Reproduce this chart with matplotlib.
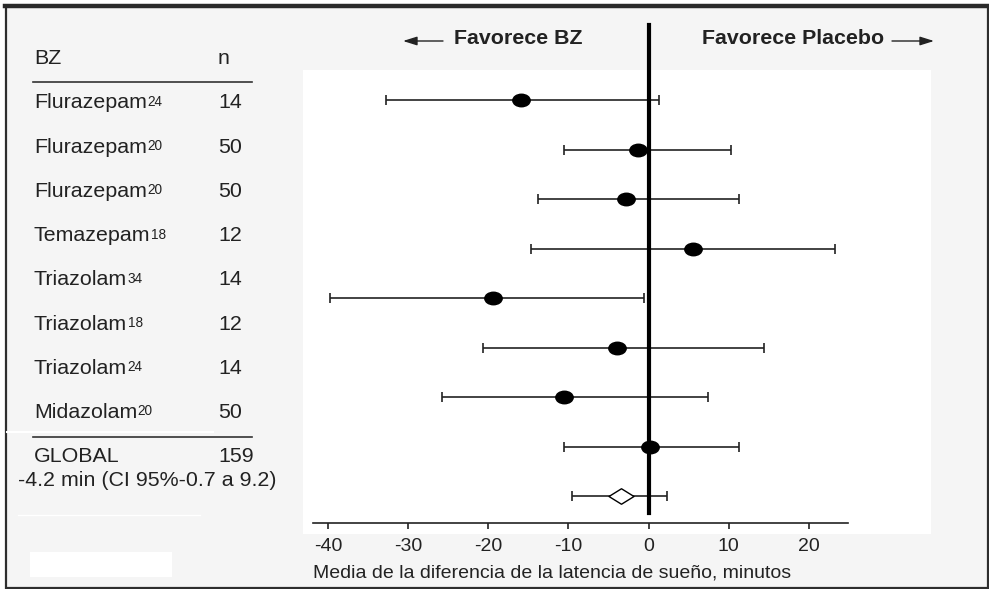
import numpy as np
import matplotlib.pyplot as plt
from matplotlib.path import Path
from matplotlib.patches import Rectangle
from matplotlib.lines import Line2D

# datos
farmacos = ['Flurazepam', 'Flurazepam', 'Flurazepam', 'Temazepam',
            'Triazolam', 'Triazolam', 'Triazolam', 'Midazolam']
refs = ['24', '20', '20', '18', '34', '18', '24', '20']
n_pac = [14, 50, 50, 12, 14, 12, 14, 50]
media = [-15.9, -1.3, -2.8, 5.5, -19.4, -3.9, -10.6, 0.2]
ic_inf = [-32.8, -10.6, -13.8, -14.7, -39.8, -20.7, -25.8, -10.6]
ic_sup = [1.3, 10.3, 11.3, 23.3, -0.6, 14.4, 7.4, 11.3]
global_media = -3.5
global_inf = -9.6
global_sup = 2.3
n_global = 159
texto_global = '-4.2 min (CI 95%-0.7 a 9.2)'
ticks = [-40, -30, -20, -10, 0, 10, 20]
xlabel = 'Media de la diferencia de la latencia de sueño, minutos'

plt.rcParams['font.family'] = ['Liberation Sans', 'DejaVu Sans']

W, H = 989, 589
def fx(px):
    return px / W
def fy(py):
    return 1 - py / H

fig = plt.figure(figsize=(W / 100, H / 100), dpi=100)
fig.patch.set_facecolor('white')
gris = '#222222'

# marco gris
fig.patches.append(Rectangle((fx(6), fy(588)), (988 - 6) / W, (588 - 6) / H, transform=fig.transFigure,
                             fc='#f5f5f5', ec='#2e2e2e', lw=1.6, zorder=-3))
fig.lines.append(Line2D([fx(5), fx(989)], [fy(6), fy(6)], transform=fig.transFigure,
                        color='#2a2a2a', lw=3.2, zorder=-2))
# zona blanca del grafico
fig.patches.append(Rectangle((fx(303), fy(534)), (931 - 303) / W, (534 - 70) / H, transform=fig.transFigure,
                             fc='white', ec='none', zorder=-2))
# manchas blancas del original
fig.lines.append(Line2D([fx(7), fx(213)], [fy(432), fy(432)], transform=fig.transFigure, color='white', lw=1.5, zorder=-1))
fig.lines.append(Line2D([fx(18), fx(200)], [fy(515), fy(515)], transform=fig.transFigure, color='white', lw=1, zorder=-1))
fig.patches.append(Rectangle((fx(30), fy(577)), (172 - 30) / W, (577 - 552) / H, transform=fig.transFigure,
                             fc='white', ec='none', zorder=-1))

ax = fig.add_axes([fx(313), fy(523), (848 - 313) / W, (523 - 70) / H])
ax.set_facecolor('none')

media = np.array(media)
y = np.arange(len(media))
y_global = len(media)

circ = Path.unit_circle()
elipse = Path(circ.vertices * [1.0, 0.72], circ.codes)
rombo = Path([(-1, 0), (0, 0.62), (1, 0), (0, -0.62), (-1, 0)],
             [Path.MOVETO, Path.LINETO, Path.LINETO, Path.LINETO, Path.CLOSEPOLY])

ax.errorbar(media, y, xerr=[media - np.array(ic_inf), np.array(ic_sup) - media], fmt='none',
            ecolor=gris, elinewidth=1.2, capsize=3.3, capthick=1.2, zorder=2)
ax.plot(media, y, ls='none', marker=elipse, ms=12.5, color='black', zorder=4)
ax.errorbar([global_media], [y_global], xerr=[[global_media - global_inf], [global_sup - global_media]],
            fmt='none', ecolor=gris, elinewidth=1.2, capsize=3.3, capthick=1.2, zorder=2)
ax.plot([global_media], [y_global], ls='none', marker=rombo, ms=18, mfc='white', mec='black', mew=1, zorder=4)

ax.axvline(0, ymin=10 / 453, ymax=498 / 453, color='black', lw=3, clip_on=False, zorder=3)

ax.set_xlim(-41.9, 24.9)
ax.set_ylim(8.545, -0.606)
ax.set_yticks([])
for s in ['top', 'left', 'right']:
    ax.spines[s].set_visible(False)
ax.spines['bottom'].set_linewidth(1.2)
ax.spines['bottom'].set_color(gris)
ax.set_xticks(ticks)
ax.set_xticklabels([str(t) for t in ticks])
ax.tick_params(axis='x', direction='out', length=4, width=1.2, labelsize=14, pad=7,
               color=gris, labelcolor=gris)
ax.set_xlabel(xlabel, loc='left', fontsize=14, color=gris, labelpad=6.5)

# titulos
fig.text(fx(583), fy(39), 'Favorece BZ', ha='right', va='center', fontsize=15.4,
         fontweight='bold', color=gris)
fig.text(fx(702), fy(39), 'Favorece Placebo', ha='left', va='center', fontsize=15.4,
         fontweight='bold', color=gris)
ap = dict(arrowstyle='-|>,head_length=0.7,head_width=0.22', lw=1, color=gris,
          mutation_scale=12, shrinkA=0, shrinkB=0)
fig.add_artist(plt.Annotation('', xy=(fx(403), fy(41)), xytext=(fx(443), fy(41)),
                              xycoords='figure fraction', arrowprops=ap))
fig.add_artist(plt.Annotation('', xy=(fx(934), fy(41)), xytext=(fx(892), fy(41)),
                              xycoords='figure fraction', arrowprops=ap))

# tabla izquierda
fs = 15.4
fs_sup = 9.8
fig.text(fx(34), fy(59), 'BZ', fontsize=fs, va='center', color=gris)
fig.text(fx(218), fy(59), 'n', fontsize=fs, va='center', color=gris)
fig.lines.append(Line2D([fx(33), fx(252)], [fy(82), fy(82)], transform=fig.transFigure, color='#333333', lw=1.2))

renderer = fig.canvas.get_renderer()
for i, (f, r, n) in enumerate(zip(farmacos, refs, n_pac)):
    yy = 103 + i * 44.2
    t = fig.text(fx(34), fy(yy), f, fontsize=fs, va='center', color=gris)
    bb = t.get_window_extent(renderer)
    # superindice con la referencia
    fig.text((bb.x1 + 0.5) / W, (bb.y1 - 1.5) / H, r, fontsize=fs_sup, va='top', ha='left', color=gris)
    fig.text(fx(218), fy(yy), str(n), fontsize=fs, va='center', color=gris)
fig.lines.append(Line2D([fx(33), fx(252)], [fy(437), fy(437)], transform=fig.transFigure, color='#333333', lw=1.2))
fig.text(fx(34), fy(457), 'GLOBAL', fontsize=fs, va='center', color=gris)
fig.text(fx(218), fy(457), str(n_global), fontsize=fs, va='center', color=gris)
fig.text(fx(147), fy(480), texto_global, fontsize=fs, va='center', ha='center', color=gris)

fig.savefig('out.png', dpi=100, facecolor=fig.get_facecolor())
